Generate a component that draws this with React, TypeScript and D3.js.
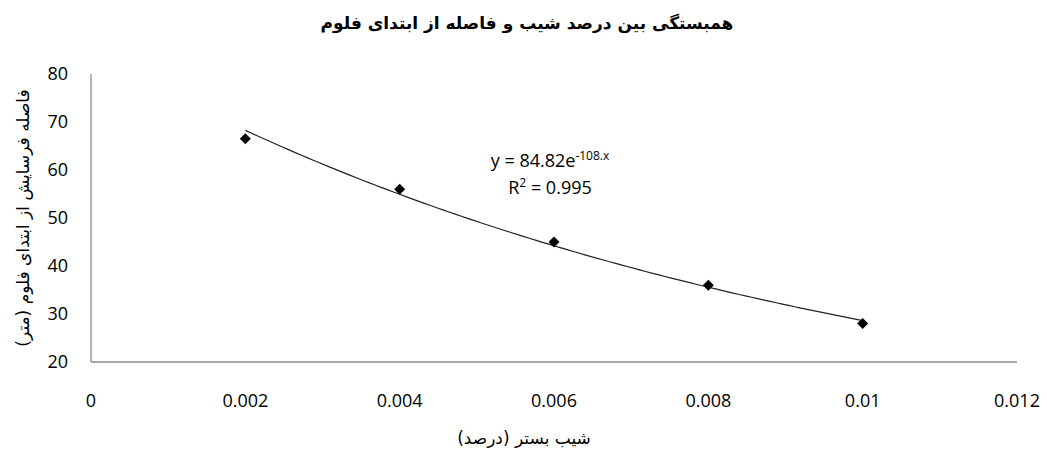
import * as d3 from 'd3'

const slopes = [0.002, 0.004, 0.006, 0.008, 0.01]
const distances = [66.5, 56, 45, 36, 28]

const xTicks = [0, 0.002, 0.004, 0.006, 0.008, 0.01, 0.012]
const xTickLabels = ['0', '0.002', '0.004', '0.006', '0.008', '0.01', '0.012']
const yTicks = [20, 30, 40, 50, 60, 70, 80]

const TITLE = 'همبستگی بین درصد شیب و فاصله از ابتدای فلوم'
const X_TITLE = 'شیب بستر (درصد)'
const Y_TITLE = 'فاصله فرسایش از ابتدای فلوم (متر)'

const AXIS = '#8c8c8c'
const INK = '#000'
const LATIN = 'Open Sans, Noto Sans, sans-serif'
const ARABIC = 'DejaVu Sans, sans-serif'

// exponential least squares fit y = a * e^(b x), like the Excel trendline
function expFit(xs: number[], ys: number[]) {
  const ly = ys.map(Math.log)
  const mx = d3.mean(xs)!
  const my = d3.mean(ly)!
  const sxy = d3.sum(xs, (x, i) => (x - mx) * (ly[i] - my))
  const sxx = d3.sum(xs, x => (x - mx) ** 2)
  const b = sxy / sxx
  const a = Math.exp(my - b * mx)
  return {a, b}
}

export default function App() {
  const width = 1047
  const height = 455

  const x = d3.scaleLinear().domain([0, 0.012]).range([91, 1017])
  const y = d3.scaleLinear().domain([20, 80]).range([362, 74])

  const {a, b} = expFit(slopes, distances)
  const [x0, x1] = d3.extent(slopes) as [number, number]
  const trendXs = d3.range(0, 101).map(i => x0 + (x1 - x0) * i / 100)
  const trend = d3.line<number>()
    .x(d => x(d))
    .y(d => y(a * Math.exp(b * d)))(trendXs) ?? undefined

  const diamond = 'M0,-5.5L5.5,0L0,5.5L-5.5,0Z'

  return (
    <>
      <style>{'body{margin:0}'}</style>
      <svg width={width} height={height} viewBox={`0 0 ${width} ${height}`} style={{display: 'block', background: '#fff'}}>
        <text x={527} y={29} textAnchor={'middle'} fontFamily={ARABIC} fontWeight={700} fontSize={17} fill={INK} direction={'rtl'}>
          {TITLE}
        </text>

        <line x1={x(0)} x2={x(0)} y1={y(80)} y2={y(20)} stroke={AXIS} strokeWidth={1.3} />
        <line x1={x(0)} x2={x(0.012)} y1={y(20)} y2={y(20)} stroke={AXIS} strokeWidth={1.3} />

        <g fontFamily={LATIN} fontSize={18} fill={INK}>
          {yTicks.map(t => (
            <text key={t} x={68} y={y(t)} dy={'0.35em'} textAnchor={'end'}>{t}</text>
          ))}
          {xTicks.map((t, i) => (
            <text key={t} x={x(t)} y={407} textAnchor={'middle'}>{xTickLabels[i]}</text>
          ))}
        </g>

        <path d={trend} fill={'none'} stroke={'#222'} strokeWidth={1.2} />

        {slopes.map((s, i) => (
          <path key={s} d={diamond} transform={`translate(${x(s)},${y(distances[i])})`} fill={INK} />
        ))}

        <g fontFamily={LATIN} fill={INK}>
          <text x={550} y={167} textAnchor={'middle'} fontSize={18}>
            {`y = ${a.toFixed(2)}e`}
            <tspan fontSize={12} dy={-7}>{`${Math.trunc(b)}.x`}</tspan>
          </text>
          <text x={550} y={194} textAnchor={'middle'} fontSize={18}>
            R<tspan fontSize={12} dy={-7}>2</tspan><tspan dy={7}> = 0.995</tspan>
          </text>
        </g>

        <text x={524} y={444} textAnchor={'middle'} fontFamily={ARABIC} fontSize={17} fill={INK} direction={'rtl'}>
          {X_TITLE}
        </text>
        <text transform={'translate(29,218) rotate(-90)'} textAnchor={'middle'} fontFamily={ARABIC} fontSize={17} fill={INK} direction={'rtl'}>
          {Y_TITLE}
        </text>
      </svg>
    </>
  )
}
